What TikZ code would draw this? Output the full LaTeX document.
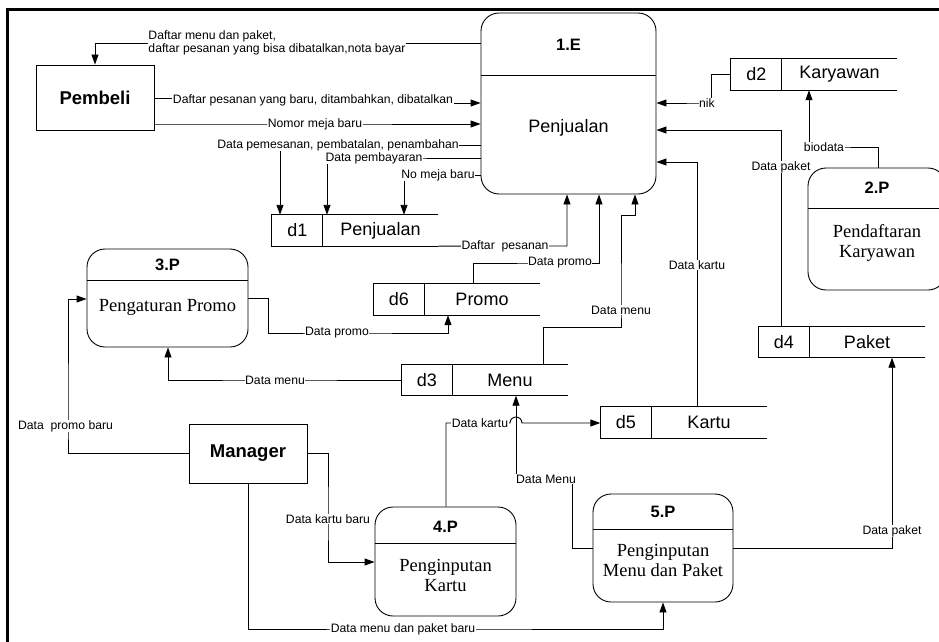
\documentclass[tikz,border=0pt]{standalone}
\usepackage{fontspec}
\setmainfont{Liberation Serif}
\setsansfont{Liberation Sans}
\usepackage{tikz}
\usetikzlibrary{calc, arrows.meta, positioning}

\begin{document}
\begin{tikzpicture}[x=1pt, y=-1pt, >={Triangle[length=10pt, width=7pt]},
    aliran/.style={line width=0.9pt},
    entitas/.style={draw, line width=0.9pt, minimum width=118pt, inner sep=0pt,
        font=\sffamily\bfseries\fontsize{18.5}{20}\selectfont},
    proses/.style={draw, line width=0.9pt, rounded corners=18pt, inner sep=0pt},
    idproses/.style={inner sep=0pt, font=\sffamily\bfseries\fontsize{16.5}{18}\selectfont},
    isiproses/.style={inner sep=0pt, align=center, font=\fontsize{18.5}{20.5}\selectfont},
    simpan/.style={minimum width=166pt, minimum height=31pt, inner sep=0pt},
    teks/.style={inner sep=0pt, font=\sffamily\fontsize{18}{20}\selectfont},
    lbl/.style={fill=white, inner sep=0.6pt, font=\sffamily\fontsize{12.2}{13}\selectfont}]

    % =================================================================
    % 1. LATAR DAN BINGKAI
    % =================================================================
    \useasboundingbox (0,0) rectangle (939,642);
    \fill[white] (0,0) rectangle (939,642);
    \draw[line width=3pt] (7.5,642) -- (7.5,9.5) -- (939,9.5);

    % =================================================================
    % 2. ENTITAS LUAR
    % =================================================================
    \node[entitas, minimum height=65pt] (pembeli) at (95,97.5) {Pembeli};
    \node[entitas, minimum height=59pt] (manager) at (248,453.5) {Manager};

    % =================================================================
    % 3. PROSES (kotak sudut bulat dengan garis pemisah)
    % =================================================================
    % Proses 1.E Penjualan
    \node[proses, minimum width=175pt, minimum height=181pt] (P1) at (568.5,103.5) {};
    \draw[aliran] (P1.west |- 0,75) -- (P1.east |- 0,75);
    \node[idproses] (P1id) at (568.5,45) {1.E};
    \node[teks] (P1isi) at (568.5,128) {Penjualan};

    % Proses 2.P Pendaftaran Karyawan
    \node[proses, minimum width=138pt, minimum height=122pt] (P2) at (877,229) {};
    \draw[aliran] (P2.west |- 0,208) -- (P2.east |- 0,208);
    \node[idproses] (P2id) at (877,188) {2.P};
    \node[isiproses] (P2isi) at (877,243) {Pendaftaran\\Karyawan};

    % Proses 3.P Pengaturan Promo
    \node[proses, minimum width=161pt, minimum height=98pt] (P3) at (167.5,298) {};
    \draw[aliran] (P3.west |- 0,280) -- (P3.east |- 0,280);
    \node[idproses] (P3id) at (167.5,265) {3.P};
    \node[isiproses] (P3isi) at (167.5,307) {Pengaturan Promo};

    % Proses 4.P Penginputan Kartu
    \node[proses, minimum width=141pt, minimum height=109pt] (P4) at (445.5,561.5) {};
    \draw[aliran] (P4.west |- 0,543) -- (P4.east |- 0,543);
    \node[idproses] (P4id) at (445.5,527) {4.P};
    \node[isiproses] (P4isi) at (445.5,575.5) {Penginputan\\Kartu};

    % Proses 5.P Penginputan Menu dan Paket
    \node[proses, minimum width=140pt, minimum height=108pt] (P5) at (663,548) {};
    \draw[aliran] (P5.west |- 0,529) -- (P5.east |- 0,529);
    \node[idproses] (P5id) at (663,512) {5.P};
    \node[isiproses] (P5isi) at (663,560.5) {Penginputan\\Menu dan Paket};

    % =================================================================
    % 4. PENYIMPANAN DATA (d1 - d6)
    % =================================================================
    \node[simpan] (d1) at (355,230.5) {};
    \draw[aliran] (d1.north east) -- (d1.north west) -- (d1.south west) -- (d1.south east);
    \draw[aliran] ($(d1.north west)+(51,0)$) -- ($(d1.south west)+(51,0)$);
    \node[teks] (d1id) at ($(d1.west)+(25.5,0)$) {d1};
    \node[teks] (d1nama) at ($(d1.center)+(25.5,0)$) {Penjualan};

    \node[simpan] (d2) at (814,74.5) {};
    \draw[aliran] (d2.north east) -- (d2.north west) -- (d2.south west) -- (d2.south east);
    \draw[aliran] ($(d2.north west)+(51,0)$) -- ($(d2.south west)+(51,0)$);
    \node[teks] (d2id) at ($(d2.west)+(25.5,0)$) {d2};
    \node[teks] (d2nama) at ($(d2.center)+(25.5,0)$) {Karyawan};

    \node[simpan] (d3) at (484.5,380) {};
    \draw[aliran] (d3.north east) -- (d3.north west) -- (d3.south west) -- (d3.south east);
    \draw[aliran] ($(d3.north west)+(51,0)$) -- ($(d3.south west)+(51,0)$);
    \node[teks] (d3id) at ($(d3.west)+(25.5,0)$) {d3};
    \node[teks] (d3nama) at ($(d3.center)+(25.5,0)$) {Menu};

    \node[simpan] (d4) at (841.5,342) {};
    \draw[aliran] (d4.north east) -- (d4.north west) -- (d4.south west) -- (d4.south east);
    \draw[aliran] ($(d4.north west)+(51,0)$) -- ($(d4.south west)+(51,0)$);
    \node[teks] (d4id) at ($(d4.west)+(25.5,0)$) {d4};
    \node[teks] (d4nama) at ($(d4.center)+(25.5,0)$) {Paket};

    \node[simpan] (d5) at (683.5,422.5) {};
    \draw[aliran] (d5.north east) -- (d5.north west) -- (d5.south west) -- (d5.south east);
    \draw[aliran] ($(d5.north west)+(51,0)$) -- ($(d5.south west)+(51,0)$);
    \node[teks] (d5id) at ($(d5.west)+(25.5,0)$) {d5};
    \node[teks] (d5nama) at ($(d5.center)+(25.5,0)$) {Kartu};

    \node[simpan] (d6) at (456.5,299.5) {};
    \draw[aliran] (d6.north east) -- (d6.north west) -- (d6.south west) -- (d6.south east);
    \draw[aliran] ($(d6.north west)+(51,0)$) -- ($(d6.south west)+(51,0)$);
    \node[teks] (d6id) at ($(d6.west)+(25.5,0)$) {d6};
    \node[teks] (d6nama) at ($(d6.center)+(25.5,0)$) {Promo};

    % =================================================================
    % 5. ALIRAN DATA DI SEKITAR PROSES 1.E
    % =================================================================
    \draw[aliran, ->] (P1.west |- 0,43) -- (277,43)
        node[lbl, align=left] (a1) {Daftar menu dan paket,\\daftar pesanan yang bisa dibatalkan,nota bayar}
        -| (pembeli.north);
    \draw[aliran, ->] (pembeli.east |- 0,98) -- (313,98) -- (313,103)
        node[lbl, midway] (a2) {Daftar pesanan yang baru, ditambahkan, dibatalkan}
        -- (P1.west |- 0,103);
    \draw[aliran, ->] (pembeli.east |- 0,124) -- (315,124)
        node[lbl] (a3) {Nomor meja baru} -- (P1.west |- 0,124);
    \draw[aliran, ->] (P1.west |- 0,145) -- (338,145)
        node[lbl] (a4) {Data pemesanan, pembatalan, penambahan} -| (d1.north -| 280,0);
    \draw[aliran, ->] (P1.west |- 0,158) -- (374,158)
        node[lbl] (a5) {Data pembayaran} -| (d1.north -| 327,0);
    \draw[aliran, ->] (P1.west |- 0,175) -- (438,175)
        node[lbl] (a6) {No meja baru} -| (d1.north -| 404,0);
    \draw[aliran, ->] (d1.south east) -- (505,246)
        node[lbl] (a7) {Daftar\ \ pesanan} -| (P1.south -| 567,0);
    \draw[aliran, ->] (d6.north -| 473,0) |- (560,263)
        node[lbl] (a8) {Data promo} -| (P1.south -| 599,0);
    \draw[aliran, ->] (d3.north -| 543,0) |- (621,327) -- (621,310)
        node[lbl] (a9) {Data menu} -- (621,215) -| (P1.south -| 635,0);
    \draw[aliran, ->] (d2.west) -| (711,103) -- (707,103)
        node[lbl] (a10) {nik} -- (P1.east |- 0,103);
    \draw[aliran, ->] (d4.north -| 781,0) -- (781,167)
        node[lbl] (a11) {Data paket} |- (P1.east |- 0,130);
    \draw[aliran, ->] (d5.north -| 697,0) -- (697,265)
        node[lbl] (a12) {Data kartu} |- (P1.east |- 0,162);

    % =================================================================
    % 6. ALIRAN DATA PROSES 2.P - 5.P
    % =================================================================
    \draw[aliran, ->] (P2.north -| 878,0) |- (824,147)
        node[lbl] (a13) {biodata} -| (d2.south -| 809,0);
    \draw[aliran, ->] (manager.west) -| (68,426)
        node[lbl, xshift=-2.5pt] (a14) {Data\ \ promo baru} |- (P3.west |- 0,299);
    \draw[aliran, ->] (P3.east |- 0,298) -| (268,333) -- (337,333)
        node[lbl] (a15) {Data promo} -| (d6.south -| 448,0);
    \draw[aliran, ->] (d3.west) -- (275,380)
        node[lbl] (a16) {Data menu} -| (P3.south -| 168,0);
    \draw[aliran, ->] (manager.east) -| (328,519)
        node[lbl] (a17) {Data kartu baru} |- (P4.west |- 0,562);
    \draw[aliran, ->] (manager.south) |- (403,629)
        node[lbl] (a18) {Data menu dan paket baru} -| (P5.south);
    \draw[aliran, ->] (P4.north -| 446,0) |- (480,423)
        node[lbl] (a19) {Data kartu} -- (510,423)
        arc[start angle=180, end angle=0, radius=6pt] -- (d5.west |- 0,423);
    \draw[aliran, ->] (P5.west) -| (572,479) -- (546,479)
        node[lbl] (a20) {Data Menu} -| (d3.south -| 516,0);
    \draw[aliran, ->] (P5.east) -| (892,531)
        node[lbl] (a21) {Data paket} -- (d4.south -| 892,0);

\end{tikzpicture}
\end{document}
